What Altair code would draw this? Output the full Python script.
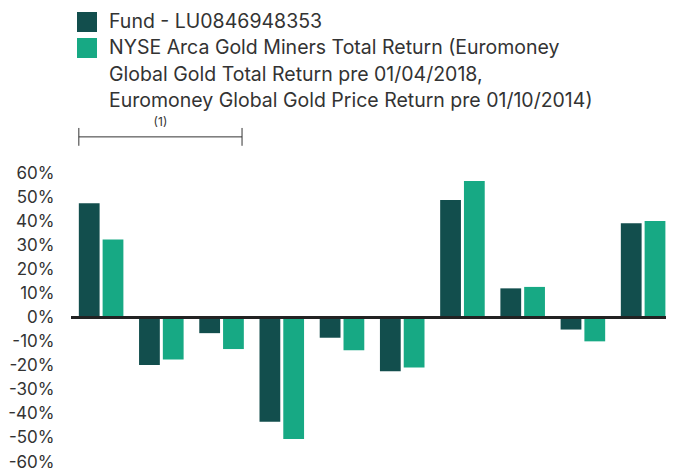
import altair as alt
import pandas as pd

# ---- data ----
groups = list(range(1, 11))
fund = [47.4, -19.7, -6.5, -43.3, -8.4, -22.3, 48.8, 12.1, -5.0, 39.1]
bench = [32.4, -17.4, -13.1, -50.5, -13.6, -20.8, 56.7, 12.7, -9.9, 40.1]
series_names = [
    "Fund - LU0846948353",
    "NYSE Arca Gold Miners Total Return (Euromoney Global Gold Total Return pre 01/04/2018, Euromoney Global Gold Price Return pre 01/10/2014)",
]
bench_lines = [
    "NYSE Arca Gold Miners Total Return (Euromoney",
    "Global Gold Total Return pre 01/04/2018,",
    "Euromoney Global Gold Price Return pre 01/10/2014)",
]
colors = ["#124e4d", "#17a984"]
y_ticks = list(range(-60, 61, 10))
bracket_groups = [1, 3]
bracket_label = "(1)"

rows = []
for g, f, b in zip(groups, fund, bench):
    rows.append({"group": g, "series": series_names[0], "order": 0, "value": f})
    rows.append({"group": g, "series": series_names[1], "order": 1, "value": b})
df = pd.DataFrame(rows)

FONT = "Inter"
TEXT = "#333333"

x_scale = alt.Scale(domain=[0.5, 10.38], nice=False, zero=False)
y_scale = alt.Scale(domain=[-60, 60], nice=False, zero=False)

y_axis = alt.Axis(
    values=y_ticks,
    labelExpr="datum.value + '%'",
    labelOverlap=False,
    domain=False,
    ticks=False,
    grid=False,
    labelPadding=17,
    labelFontSize=17,
    labelColor=TEXT,
    labelFont=FONT,
    title=None,
)

label_expr = (
    "datum.label == '" + series_names[1] + "' ? ["
    + ", ".join("'" + s + "'" for s in bench_lines)
    + "] : datum.label"
)

bars = alt.Chart(df).transform_calculate(
    x0="datum.group + (datum.order == 0 ? -0.37 : 0.025)",
    x1="datum.group + (datum.order == 0 ? -0.025 : 0.37)",
).mark_bar().encode(
    x=alt.X("x0:Q", scale=x_scale, axis=None),
    x2="x1:Q",
    y=alt.Y("value:Q", scale=y_scale, axis=y_axis),
    y2=alt.datum(0),
    color=alt.Color(
        "series:N",
        scale=alt.Scale(domain=series_names, range=colors),
        legend=alt.Legend(
            orient="none",
            legendX=6,
            legendY=-161,
            title=None,
            symbolType="square",
            symbolSize=400,
            symbolStrokeWidth=0,
            symbolOpacity=1,
            labelFontSize=19.5,
            labelFont=FONT,
            labelColor=TEXT,
            labelOffset=12,
            labelLimit=800,
            labelExpr=label_expr,
            rowPadding=6,
            padding=0,
        ),
    ),
)

zero = alt.Chart(pd.DataFrame({"v": [0]})).mark_rule(color="#222222", strokeWidth=3).encode(
    y=alt.Y("v:Q", scale=y_scale, axis=y_axis)
)

br = pd.DataFrame({
    "x0": [bracket_groups[0] - 0.37],
    "x1": [bracket_groups[1] + 0.34],
    "y": [75.0],
    "ylo": [71.3],
    "yhi": [78.7],
    "ty": [81.0],
    "label": [bracket_label],
})
bracket_h = alt.Chart(br).mark_rule(color=TEXT, strokeWidth=1).encode(
    x=alt.X("x0:Q", scale=x_scale, axis=None), x2="x1:Q",
    y=alt.Y("y:Q", scale=y_scale, axis=y_axis)
)
bracket_l = alt.Chart(br).mark_rule(color=TEXT, strokeWidth=1).encode(
    x=alt.X("x0:Q", scale=x_scale, axis=None),
    y=alt.Y("ylo:Q", scale=y_scale, axis=y_axis), y2="yhi:Q"
)
bracket_r = alt.Chart(br).mark_rule(color=TEXT, strokeWidth=1).encode(
    x=alt.X("x1:Q", scale=x_scale, axis=None),
    y=alt.Y("ylo:Q", scale=y_scale, axis=y_axis), y2="yhi:Q"
)
bracket_t = alt.Chart(br).transform_calculate(xm="(datum.x0 + datum.x1) / 2").mark_text(
    font=FONT, fontSize=12, color=TEXT, baseline="middle", align="center"
).encode(
    x=alt.X("xm:Q", scale=x_scale, axis=None),
    y=alt.Y("ty:Q", scale=y_scale, axis=y_axis), text="label:N"
)

chart = alt.layer(bars, zero, bracket_h, bracket_l, bracket_r, bracket_t).properties(
    width=595,
    height=289,
    autosize=alt.AutoSizeParams(type="none"),
    padding={"left": 63, "top": 165, "right": 0, "bottom": 12},
).configure(style={"guide-label": {"lineHeight": 26.7}}).configure_view(stroke=None)

chart.save("out.html", embed_options={"renderer": "svg", "actions": False})
